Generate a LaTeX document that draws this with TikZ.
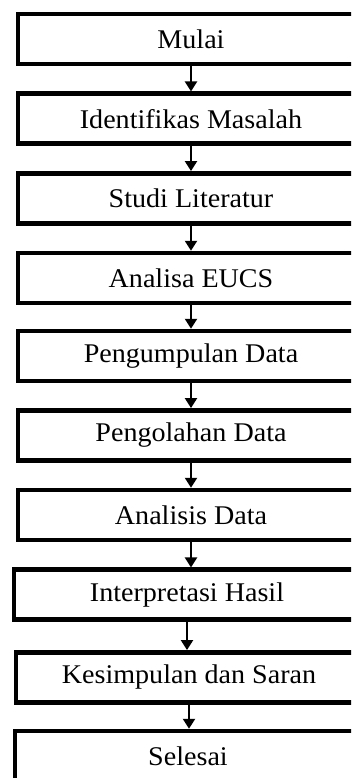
\documentclass[tikz,border=0pt]{standalone}
\usepackage{fontspec}
\setmainfont{Liberation Serif}[FakeStretch=1.04]
\usetikzlibrary{arrows.meta}
\begin{document}
\begin{tikzpicture}[x=1pt,y=-1pt,
  stepbox/.style={draw=black, line width=4.5pt, rectangle, minimum width=346pt,
    minimum height=50pt, inner sep=0pt, font=\fontsize{27}{30}\selectfont},
  arr/.style={draw=black, line width=2.2pt, -{Triangle[width=12pt,length=10pt]}}]
\useasboundingbox (0,0) rectangle (351,778);
\fill[white] (0,0) rectangle (351,778);
\clip (0,0) rectangle (351,778);
\node[stepbox] (b0) at (191, 39.0) {Mulai};
\node[stepbox] (b1) at (191,118.7) {Identifikas Masalah};
\node[stepbox] (b2) at (191,198.3) {Studi Literatur};
\node[stepbox] (b3) at (191,278.0) {Analisa EUCS};
\node[stepbox] (b4) at (191,356.0) {Pengumpulan Data};
\node[stepbox] (b5) at (191,435.3) {Pengolahan Data};
\node[stepbox] (b6) at (191,515.0) {Analisis Data};
\node[stepbox] (b7) at (187,594.7) {Interpretasi Hasil};
\node[stepbox] (b8) at (189,677.3) {Kesimpulan dan Saran};
\node[stepbox] (b9) at (188,756.0) {Selesai};
\foreach \a/\b in {b0/b1,b1/b2,b2/b3,b3/b4,b4/b5,b5/b6,b6/b7,b7/b8,b8/b9}
  \draw[arr] (\a.south) -- (\a.south |- \b.north);
\end{tikzpicture}
\end{document}
